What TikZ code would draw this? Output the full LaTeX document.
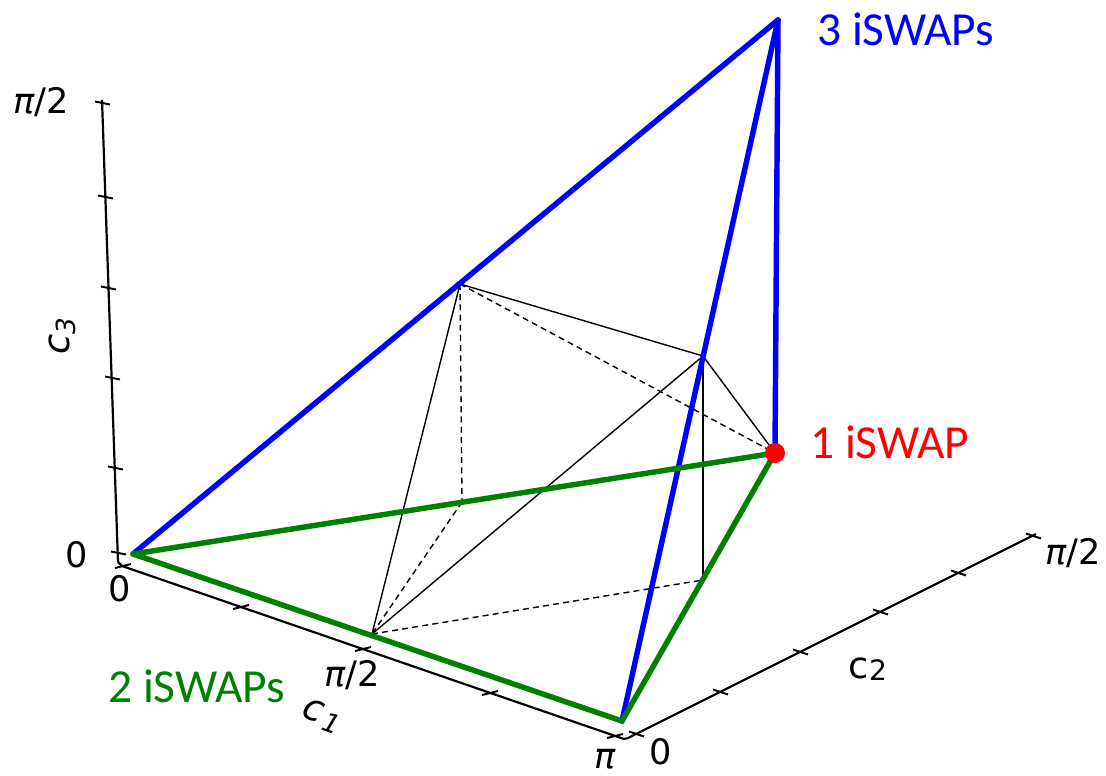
\documentclass[tikz,border=0pt]{standalone}
\usepackage{fontspec}
\setmainfont{DejaVu Sans}
\newfontfamily\gatefont{Carlito}
\usetikzlibrary{calc}
\definecolor{threeblue}{RGB}{0, 0, 255}
\definecolor{twogreen}{RGB}{0, 128, 0}
\definecolor{onered}{RGB}{255, 0, 0}

\begin{document}
\begin{tikzpicture}[x=0.02cm, y=-0.02cm,
        axis/.style={line width=1.25pt},
        tickmark/.style={line width=1.1pt},
        edge/.style={line width=0.8pt},
        hidden/.style={line width=0.8pt, dash pattern=on 3.4pt off 2.4pt},
        threeline/.style={line width=3.1pt, threeblue, line cap=round},
        twoline/.style={line width=3.1pt, twogreen, line cap=round},
        ticklabel/.style={inner sep=0pt, font=\fontsize{20}{22}\selectfont},
        axislabel/.style={inner sep=0pt, font=\fontsize{21}{23}\selectfont\itshape},
        gatelabel/.style={inner sep=0pt, anchor=west, font=\gatefont\fontsize{27}{31}\selectfont}]
    \useasboundingbox (0,0) rectangle (1106,775);

    % Axes
    \coordinate (ctop) at (102,100);
    \coordinate (corner) at (118,562);
    \coordinate (azero) at (122,566);
    \coordinate (api) at (624,739);
    \coordinate (bzero) at (628,738);
    \coordinate (bmax) at (1036,534);
    \draw[axis] (corner) -- (ctop);
    \draw[axis] (corner) -- (azero) -- (api) -- (bzero) -- (bmax);

    % Ticks
    \foreach \x/\y in {118/553, 115/468, 112/378, 108/288, 105/197, 102/103}
        \draw[tickmark] (\x-7,\y-1.5) -- (\x+8,\y+1.5);
    \foreach \x/\y in {123/566, 241/607, 363/649, 490/693, 615/736}
        \draw[tickmark] (\x-8,\y+2) -- (\x+8,\y-2);
    \foreach \x/\y in {636/734, 720/692, 800/652, 880/612, 958/573, 1033/536}
        \draw[tickmark] (\x-7,\y-2.5) -- (\x+8,\y+2.5);

    % Tick labels
    \node[ticklabel] (zthree) at (77,555) {0};
    \node[ticklabel] (hthree) at (41,102) {{\itshape π}/2};
    \node[ticklabel] (zone) at (120,589) {0};
    \node[ticklabel] (hone) at (352,675) {{\itshape π}/2};
    \node[ticklabel] (pone) at (605,759) {{\itshape π}};
    \node[ticklabel] (ztwo) at (661,752) {0};
    \node[ticklabel] (htwo) at (1073,553) {{\itshape π}/2};

    % Axis labels
    \node[axislabel, rotate=90] (cthree) at (62,336) {c\raisebox{-0.3ex}{\fontsize{15}{16}\selectfont 3}};
    \node[axislabel, rotate=-20] (cone) at (322,716) {c\kern1.5pt\raisebox{-0.3ex}{\fontsize{15}{16}\selectfont 1}};
    \node[axislabel, font=\fontsize{21}{23}\selectfont] (ctwo) at (868,669) {c\raisebox{-0.1ex}{\fontsize{16}{17}\selectfont 2}};

    % Corners of the chamber
    \coordinate (origin) at (133,554);
    \coordinate (pi) at (622,721);
    \coordinate (iswap) at (775,453);
    \coordinate (apex) at (778,20);
    \coordinate (upleft) at (460,284);
    \coordinate (upright) at (703,356);
    \coordinate (half) at (372,634);
    \coordinate (lowright) at (703,580);
    \coordinate (lowleft) at (462,502);

    % Inner polyhedron
    \draw[edge] (upleft) -- (half);
    \draw[edge] (upleft) -- (upright);
    \draw[edge] (upright) -- (iswap);
    \draw[edge] (upright) -- (half);
    \draw[edge] (upright) -- (lowright);
    \draw[hidden] (upleft) -- (lowleft);
    \draw[hidden] (lowleft) -- (half);
    \draw[hidden] (upleft) -- (iswap);
    \draw[hidden] (half) -- (lowright);

    % Outer edges
    \draw[threeline] (origin) -- (apex);
    \draw[threeline] (pi) -- (apex);
    \draw[threeline] (iswap) -- (apex);
    \draw[twoline] (origin) -- (iswap);
    \draw[twoline] (origin) -- (pi) -- (iswap);
    \fill[onered] (iswap) circle (0.2cm);

    % Gate counts
    \node[gatelabel, threeblue] (three) at (817,29) {3 iSWAPs};
    \node[gatelabel, onered] (one) at (810,442) {1 iSWAP};
    \node[gatelabel, twogreen] (two) at (108,686) {2 iSWAPs};
\end{tikzpicture}
\end{document}
